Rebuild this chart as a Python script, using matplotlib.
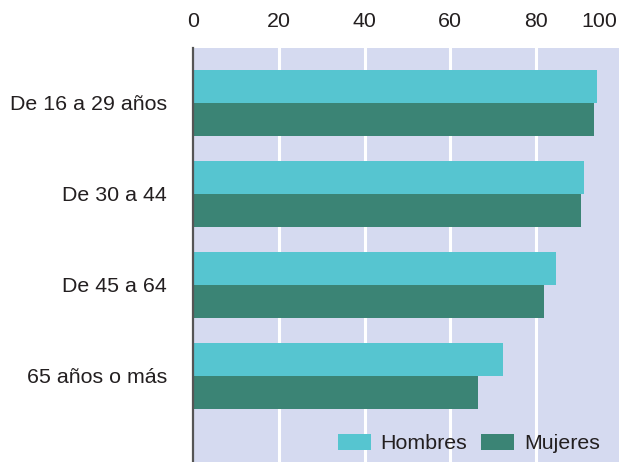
import matplotlib.pyplot as plt
import numpy as np

# datos
grupos = ['De 16 a 29 años', 'De 30 a 44', 'De 45 a 64', '65 años o más']
hombres = [94.3, 91.3, 84.7, 72.3]
mujeres = [93.6, 90.6, 81.9, 66.4]
ticks_x = [0, 20, 40, 60, 80, 100]

col_h = '#56c5d0'
col_m = '#3b8475'
fondo = '#d5daf0'
texto = '#231f20'

plt.rcParams['font.family'] = ['Liberation Sans', 'DejaVu Sans']

fig = plt.figure(figsize=(6.19, 4.62), dpi=100)
ax = fig.add_axes([193.4 / 619, 0, 1 - 193.4 / 619, 1 - 48 / 462])
ax.set_facecolor(fondo)

y = np.arange(len(grupos))
alto = 0.363
ax.barh(y - alto / 2, hombres, height=alto, color=col_h, label='Hombres', zorder=3)
ax.barh(y + alto / 2, mujeres, height=alto, color=col_m, label='Mujeres', zorder=3)

ax.set_xlim(0, (619 - 193.4) / 4.28)
ax.set_ylim(3.95, -0.6)

# rejilla blanca vertical
for t in ticks_x[1:-1]:
    ax.axvline(t, color='white', lw=2.2, zorder=1)

ax.xaxis.tick_top()
# la etiqueta 100 se corre para que quepa en la imagen
pos_x = ticks_x[:-1] + [99.0]
ax.set_xticks(pos_x)
ax.set_xticklabels([str(t) for t in ticks_x], fontsize=15.4, color=texto)
ax.get_xticklabels()[-1].set_horizontalalignment('right')
ax.tick_params(axis='x', length=0, pad=12)
ax.set_yticks(y)
ax.set_yticklabels(grupos, fontsize=15.4, color=texto)
ax.tick_params(axis='y', length=0, pad=19)

for s in ['top', 'right', 'bottom']:
    ax.spines[s].set_visible(False)
ax.spines['left'].set_color('#555555')
ax.spines['left'].set_linewidth(1.6)
ax.spines['left'].set_zorder(5)

ax.legend(loc='lower right', bbox_to_anchor=(0.975, 0.0), ncol=2, frameon=False,
          fontsize=15.4, handlelength=1.55, handleheight=0.75, handletextpad=0.45,
          columnspacing=0.65, borderaxespad=0.0, labelcolor=texto)

fig.savefig('out.png', dpi=100)
